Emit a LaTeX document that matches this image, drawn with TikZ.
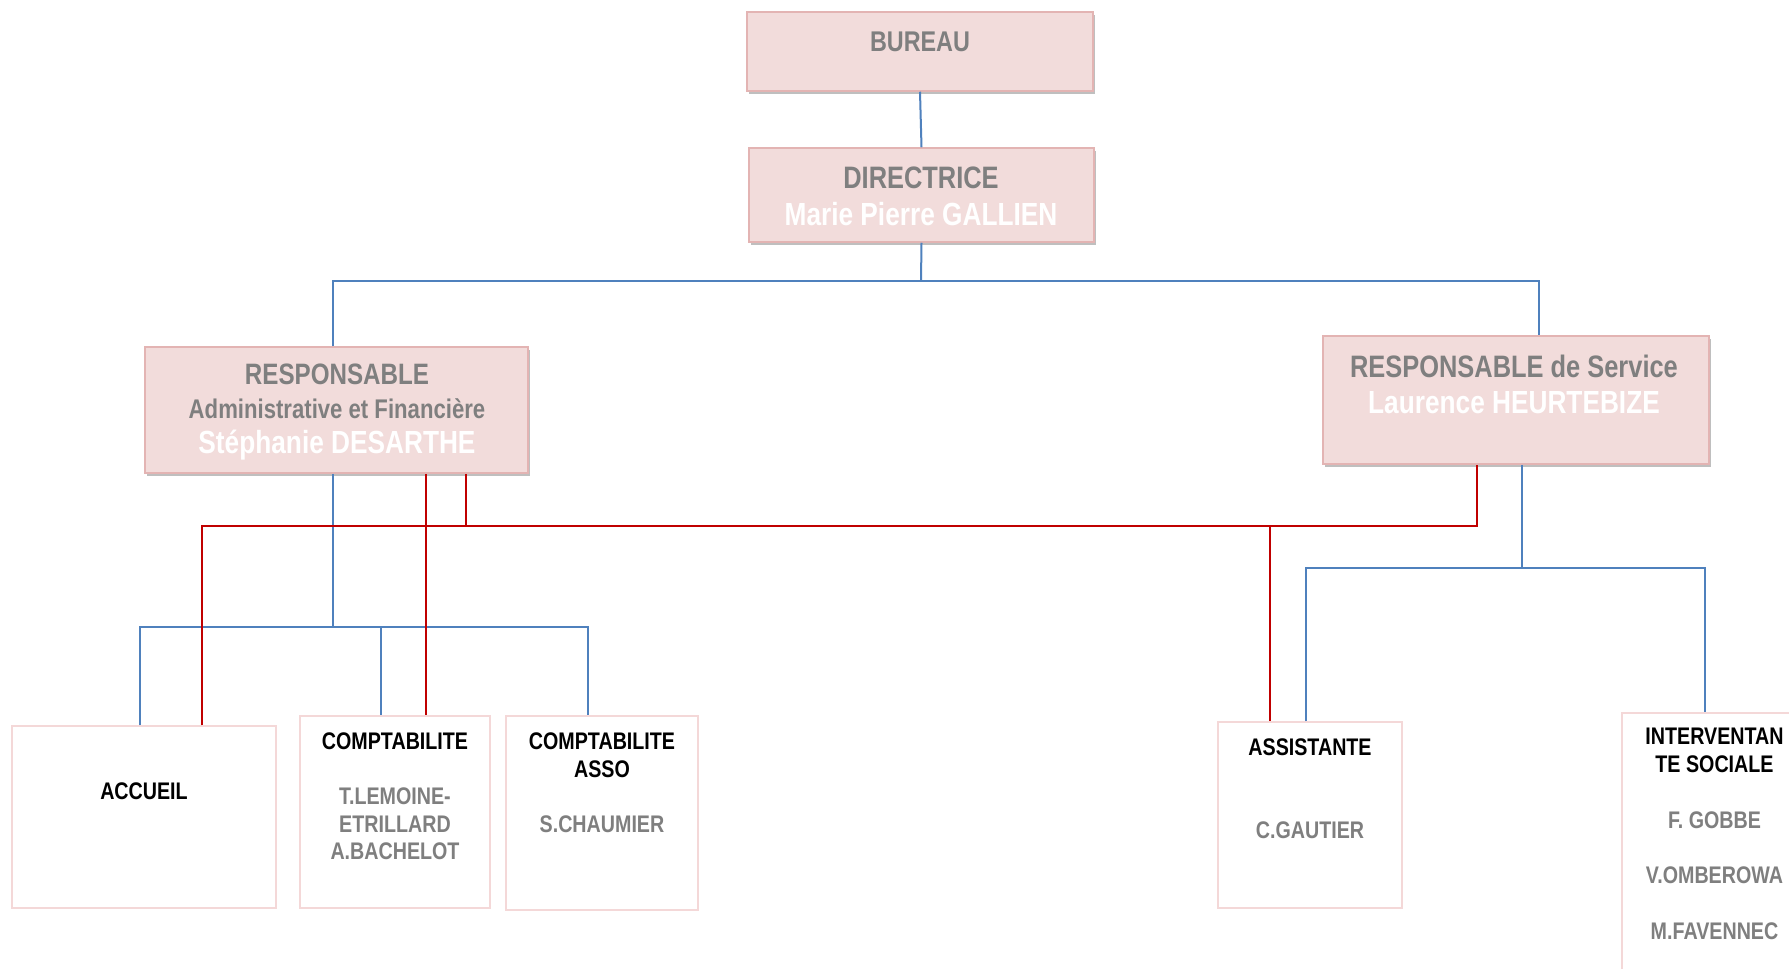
\documentclass[tikz,border=0pt]{standalone}
\usepackage{fontspec}
\setmainfont{Liberation Sans}[FakeStretch=0.82]
\usetikzlibrary{shadows}
\definecolor{pinkfill}{HTML}{F2DCDB}
\definecolor{pinkdraw}{HTML}{E3B4B3}
\definecolor{lightedge}{HTML}{F4D8D8}
\definecolor{graytxt}{HTML}{7F7F7F}
\definecolor{blueline}{HTML}{4F81BD}
\definecolor{redline}{HTML}{C00000}
\tikzset{
  x=1pt, y=-1pt,
  topbox/.style={draw=pinkdraw, line width=1.5pt, fill=pinkfill, inner sep=0pt,
    drop shadow={shadow xshift=2pt, shadow yshift=-3pt, fill=black, opacity=0.25}},
  lowbox/.style={draw=lightedge, line width=1.5pt, fill=white, inner sep=0pt},
  txt/.style={anchor=base, inner sep=0pt, font=\bfseries},
  gtxt/.style={txt, text=graytxt},
  wtxt/.style={txt, text=white},
  ktxt/.style={txt, text=black},
  bl/.style={draw=blueline, line width=2pt},
  rd/.style={draw=redline, line width=2.6pt},
}
\newcommand{\fsz}[1]{\fontsize{#1}{#1}\selectfont}
\begin{document}
\begin{tikzpicture}
\clip (0,0) rectangle (1789,969);
\fill[white] (0,0) rectangle (1789,969);

% top boxes
\node[topbox, minimum width=346pt, minimum height=79pt] (bureau) at (920,51.5) {};
\node[topbox, minimum width=345pt, minimum height=94pt] (dir) at (921.5,195) {};
\node[topbox, minimum width=383pt, minimum height=126pt] (rl) at (336.5,410) {};
\node[topbox, minimum width=386pt, minimum height=128pt] (rr) at (1516,400) {};

% lower boxes
\node[lowbox, minimum width=264pt, minimum height=182pt] (acc) at (144,817) {};
\node[lowbox, minimum width=190pt, minimum height=192pt] (cpt) at (395,812) {};
\node[lowbox, minimum width=192pt, minimum height=194pt] (asso) at (602,813) {};
\node[lowbox, minimum width=184pt, minimum height=186pt] (ast) at (1310,815) {};
\node[lowbox, minimum width=185pt, minimum height=277pt] (int) at (1714.5,851.5) {};

% blue connectors
\coordinate (jd) at (921,281);
\coordinate (jl) at (333,627);
\coordinate (jrr) at (1522,568);
\draw[bl] (bureau.south) -- (dir.north);
\draw[bl] (dir.south) -- (jd);
\draw[bl] ([xshift=-3.5pt]rl.north) |- (jd) -| ([xshift=23pt]rr.north);
\draw[bl] ([xshift=-3.5pt]rl.south) -- (jl);
\draw[bl] ([xshift=-4pt]acc.north) |- (jl) -| ([xshift=-14pt]cpt.north);
\draw[bl] (jl) -| ([xshift=-14pt]asso.north);
\draw[bl] ([xshift=6pt]rr.south) -- (jrr);
\draw[bl] ([xshift=-4pt]ast.north) |- (jrr) -| ([xshift=-9.5pt]int.north);

% red connectors
\coordinate (jr) at (466,526);
\coordinate (ja) at (1270,526);
\draw[rd] ([xshift=89.5pt]rl.south) -- ([xshift=31pt]cpt.north);
\draw[rd] ([xshift=129.5pt]rl.south) -- (jr);
\draw[rd] ([xshift=58pt]acc.north) |- (jr) -| ([xshift=-39pt]rr.south);
\draw[rd] (ja) -- ([xshift=-40pt]ast.north);

% texts top
\node[gtxt, font=\bfseries\fsz{28.5}] (tbureau) at (920,51) {BUREAU};
\node[gtxt, font=\bfseries\fsz{31}] (tdir) at (921,188) {DIRECTRICE};
\node[wtxt, font=\bfseries\fsz{32}] (tdirn) at (921,225) {Marie Pierre GALLIEN};
\node[gtxt, font=\bfseries\fsz{29.5}] (trl1) at (337,384) {RESPONSABLE};
\node[gtxt, font=\bfseries\fsz{27}] (trl2) at (337,418) {Administrative et Financière};
\node[wtxt, font=\bfseries\fsz{32}] (trl3) at (337,453) {Stéphanie DESARTHE};
\node[gtxt, font=\bfseries\fsz{31}] (trr1) at (1514,377) {RESPONSABLE de Service};
\node[wtxt, font=\bfseries\fsz{32}] (trr2) at (1514,413) {Laurence HEURTEBIZE};

% texts bottom
\node[ktxt, font=\bfseries\fsz{24}] (tacc) at (144,799) {ACCUEIL};
\node[ktxt, font=\bfseries\fsz{24}] (tcpt) at (395,749) {COMPTABILITE};
\node[gtxt, font=\bfseries\fsz{24}] (tcpt1) at (395,804) {T.LEMOINE-};
\node[gtxt, font=\bfseries\fsz{24}] (tcpt2) at (395,832) {ETRILLARD};
\node[gtxt, font=\bfseries\fsz{24}] (tcpt3) at (395,859) {A.BACHELOT};
\node[ktxt, font=\bfseries\fsz{24}] (tasso1) at (602,749) {COMPTABILITE};
\node[ktxt, font=\bfseries\fsz{24}] (tasso2) at (602,777) {ASSO};
\node[gtxt, font=\bfseries\fsz{24}] (tasso3) at (602,832) {S.CHAUMIER};
\node[ktxt, font=\bfseries\fsz{24}] (tast1) at (1310,755) {ASSISTANTE};
\node[gtxt, font=\bfseries\fsz{24}] (tast2) at (1310,838) {C.GAUTIER};
\node[ktxt, font=\bfseries\fsz{24}] (tint1) at (1714.5,744) {INTERVENTAN};
\node[ktxt, font=\bfseries\fsz{24}] (tint2) at (1714.5,772) {TE SOCIALE};
\node[gtxt, font=\bfseries\fsz{24}] (tint3) at (1714.5,828) {F. GOBBE};
\node[gtxt, font=\bfseries\fsz{24}] (tint4) at (1714.5,883) {V.OMBEROWA};
\node[gtxt, font=\bfseries\fsz{24}] (tint5) at (1714.5,939) {M.FAVENNEC};
\end{tikzpicture}
\end{document}
